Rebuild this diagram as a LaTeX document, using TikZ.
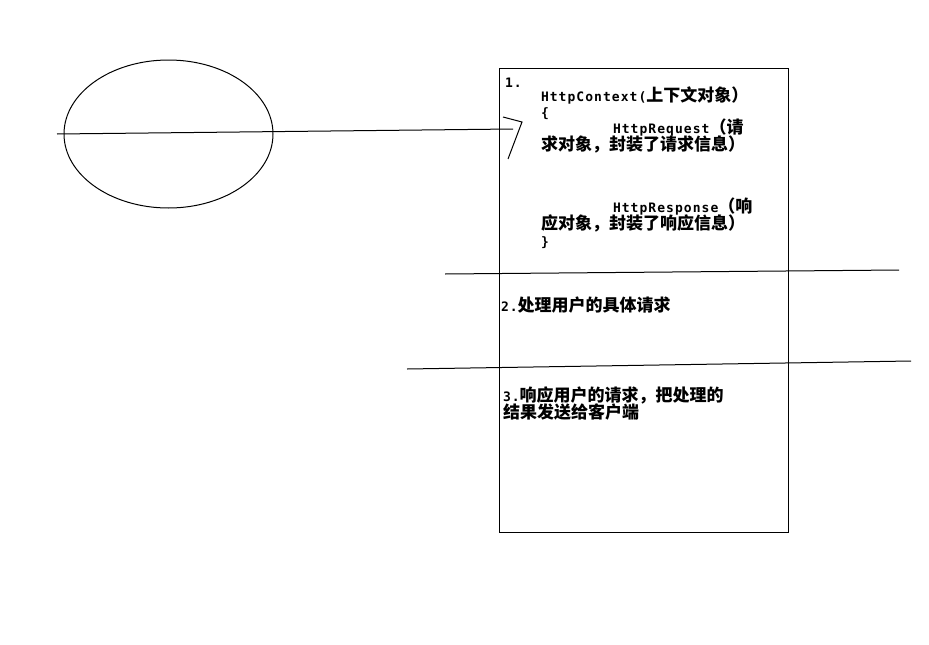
\documentclass[tikz,border=0pt]{standalone}
\usepackage{fontspec}
\usetikzlibrary{shapes.geometric}
\newfontfamily\ascfont{DejaVu Sans Mono}[LetterSpace=8]
\newfontfamily\cjkfont{Noto Sans CJK SC}
\newcommand\txA[1]{{\ascfont\bfseries\fontsize{13}{15}\selectfont #1}}
\newcommand\txC[1]{{\cjkfont\bfseries\fontsize{17}{19}\selectfont #1}}
\begin{document}
\begin{tikzpicture}[x=1pt,y=-1pt,line width=1pt,
  txt/.style={anchor=base west,inner sep=0pt,outer sep=0pt}]
\useasboundingbox (0,0) rectangle (929,645);
\fill[white] (0,0) rectangle (929,645);
% shapes
\node[ellipse,draw,minimum width=209pt,minimum height=148pt,inner sep=0pt] (ell) at (168.5,134) {};
\node[draw,rectangle,minimum width=289pt,minimum height=464pt,inner sep=0pt,anchor=north west] (box) at (499,68) {};
% connector with open head
\coordinate (start) at (57,134);
\coordinate (tip) at (513,129);
\coordinate (hv) at (522,122);
\coordinate (h1) at (503,117);
\coordinate (h2) at (508,159);
\draw (start) -- (tip);
\draw (h1) -- (hv) -- (h2);
% separator lines
\coordinate (s1a) at (445,274);
\coordinate (s1b) at (899,270);
\coordinate (s2a) at (407,369);
\coordinate (s2b) at (911,361);
\draw (s1a) -- (s1b);
\draw (s2a) -- (s2b);
% texts section 1
\node[txt] (t1) at (505,87) {\txA{1.}};
\node[txt] (t2) at (541,101) {\txA{HttpContext(}\txC{上下文对象）}};
\node[txt] (t3) at (541,117) {\txA{\{}};
\node[txt] (t4) at (613,133) {\txA{HttpRequest}\txC{（请}};
\node[txt] (t5) at (541,150) {\txC{求对象，封装了请求信息）}};
\node[txt] (t6) at (613,212) {\txA{HttpResponse}\txC{（响}};
\node[txt] (t7) at (541,229) {\txC{应对象，封装了响应信息）}};
\node[txt] (t8) at (541,246) {\txA{\}}};
% section 2
\node[txt] (t9) at (501,311) {\txA{2.}\txC{处理用户的具体请求}};
% section 3
\node[txt] (t10) at (503,401) {\txA{3.}\txC{响应用户的请求，把处理的}};
\node[txt] (t11) at (503,418) {\txC{结果发送给客户端}};
\end{tikzpicture}
\end{document}
